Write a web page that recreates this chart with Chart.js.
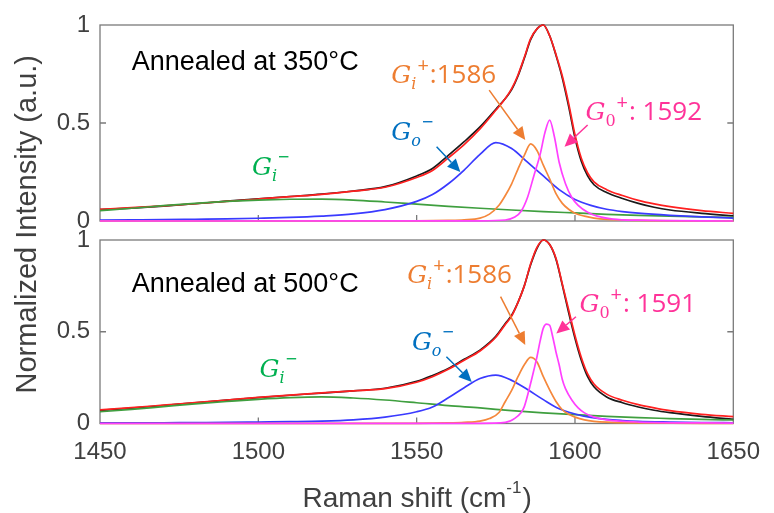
<!DOCTYPE html>
<html>
<head>
<meta charset="utf-8">
<script src="https://cdn.jsdelivr.net/npm/chart.js@4.4.0/dist/chart.umd.min.js"></script>
<style>
  html, body { margin: 0; padding: 0; background: #fff; }
</style>
</head>
<body>
<canvas id="raman" width="774" height="513"></canvas>
<script>
// axis ticks
const xTicks = [1450, 1500, 1550, 1600, 1650];
const yTicks = [0, 0.5, 1];

// Raman shift grid of the measured spectra and the total fit
const shiftMain = [1450, 1460, 1470, 1480, 1490, 1500, 1510, 1520, 1530, 1540,
  1550, 1555, 1560, 1565, 1570, 1575,
  1578, 1580, 1582, 1584, 1586, 1588, 1590, 1592, 1594, 1596, 1598, 1600, 1602, 1604, 1606,
  1610, 1615, 1620, 1625, 1630, 1640, 1650];

// 350 C : measured (black) and fit (red)
const data350 = [0.058, 0.066, 0.076, 0.088, 0.101, 0.113, 0.125, 0.137, 0.153, 0.175,
  0.23, 0.268, 0.335, 0.405, 0.48, 0.57,
  0.625, 0.67, 0.74, 0.83, 0.925, 0.98, 1.0, 0.945, 0.845, 0.73, 0.585, 0.425, 0.305, 0.23, 0.185,
  0.145, 0.115, 0.09, 0.07, 0.056, 0.039, 0.026];
const fit350 = [0.060, 0.068, 0.077, 0.088, 0.100, 0.112, 0.124, 0.136, 0.152, 0.172,
  0.222, 0.258, 0.322, 0.39, 0.47, 0.565,
  0.625, 0.675, 0.745, 0.835, 0.93, 0.98, 1.0, 0.945, 0.85, 0.74, 0.60, 0.44, 0.32, 0.245, 0.20,
  0.16, 0.13, 0.105, 0.087, 0.073, 0.053, 0.039];

// 500 C : measured (black) and fit (red)
const data500 = [0.072, 0.084, 0.098, 0.113, 0.127, 0.141, 0.154, 0.166, 0.178, 0.192,
  0.23, 0.262, 0.30, 0.35, 0.40, 0.475,
  0.545, 0.59, 0.66, 0.75, 0.865, 0.955, 1.0, 0.975, 0.895, 0.755, 0.605, 0.465, 0.345, 0.255, 0.20,
  0.145, 0.113, 0.09, 0.072, 0.059, 0.039, 0.023];
const fit500 = [0.074, 0.086, 0.10, 0.114, 0.128, 0.142, 0.155, 0.167, 0.178, 0.19,
  0.225, 0.255, 0.295, 0.345, 0.395, 0.47,
  0.54, 0.585, 0.66, 0.75, 0.87, 0.96, 1.0, 0.975, 0.90, 0.76, 0.62, 0.48, 0.36, 0.27, 0.215,
  0.16, 0.127, 0.103, 0.085, 0.07, 0.05, 0.037];

// Gi- component (green)
const shiftGiMinus = [1450, 1460, 1470, 1480, 1490, 1500, 1510, 1520, 1530, 1540, 1550,
  1560, 1570, 1580, 1590, 1600, 1610, 1620, 1630, 1640, 1650];
const giMinus350 = [0.053, 0.065, 0.078, 0.090, 0.100, 0.107, 0.111, 0.112, 0.107, 0.097, 0.086,
  0.075, 0.065, 0.056, 0.048, 0.041, 0.034, 0.029, 0.025, 0.021, 0.018];
const giMinus500 = [0.064, 0.077, 0.092, 0.107, 0.120, 0.132, 0.141, 0.145, 0.139, 0.128, 0.113,
  0.097, 0.085, 0.070, 0.058, 0.048, 0.039, 0.032, 0.027, 0.022, 0.019];

// Go- component (blue)
const shiftGoMinus = [1450, 1460, 1470, 1480, 1490, 1500, 1510, 1520, 1530, 1540, 1550, 1555,
  1560, 1565, 1570, 1575, 1580, 1585, 1590, 1595, 1600, 1605, 1610, 1615, 1620, 1630, 1640, 1650];
const goMinus350 = [0.005, 0.006, 0.007, 0.009, 0.011, 0.014, 0.018, 0.025, 0.036, 0.058, 0.10, 0.135,
  0.19, 0.26, 0.34, 0.40, 0.37, 0.30, 0.23, 0.16, 0.11, 0.08, 0.06, 0.048, 0.04, 0.029, 0.021, 0.015];
const goMinus500 = [0.003, 0.003, 0.004, 0.005, 0.006, 0.008, 0.010, 0.013, 0.02, 0.035, 0.064, 0.09,
  0.14, 0.195, 0.245, 0.264, 0.235, 0.185, 0.13, 0.08, 0.052, 0.033, 0.022, 0.016, 0.012, 0.008, 0.005, 0.004];

// Gi+ component (orange)
const shiftGiPlus = [1450, 1550, 1560, 1565, 1570, 1573, 1576, 1578, 1580, 1582, 1584, 1586,
  1588, 1590, 1592, 1594, 1596, 1598, 1600, 1603, 1606, 1610, 1620, 1650];
const giPlus350 = [0, 0.001, 0.003, 0.006, 0.015, 0.035, 0.08, 0.13, 0.19, 0.265, 0.335, 0.393,
  0.36, 0.285, 0.215, 0.14, 0.09, 0.06, 0.04, 0.025, 0.015, 0.008, 0.003, 0];
const giPlus500 = [0, 0.001, 0.003, 0.006, 0.013, 0.027, 0.06, 0.12, 0.18, 0.255, 0.32, 0.36,
  0.335, 0.255, 0.183, 0.12, 0.075, 0.05, 0.035, 0.02, 0.012, 0.007, 0.003, 0];

// G0+ component (magenta)
const shiftGPlus350 = [1450, 1570, 1578, 1581, 1583, 1585, 1587, 1589, 1590.5, 1592, 1593.5,
  1595, 1597, 1599, 1601, 1604, 1607, 1612, 1620, 1650];
const gPlus350 = [0, 0.001, 0.005, 0.02, 0.05, 0.12, 0.23, 0.34, 0.45, 0.515, 0.43,
  0.30, 0.19, 0.12, 0.08, 0.045, 0.025, 0.01, 0.004, 0];
const shiftGPlus500 = [1450, 1570, 1578, 1581, 1583, 1584, 1586, 1587, 1588, 1589, 1590, 1591, 1592,
  1593, 1594, 1595, 1596, 1597, 1599, 1601, 1603, 1606, 1610, 1620, 1650];
const gPlus500 = [0, 0.001, 0.006, 0.028, 0.06, 0.092, 0.219, 0.29, 0.364, 0.45, 0.52, 0.542, 0.535,
  0.47, 0.39, 0.32, 0.24, 0.19, 0.128, 0.085, 0.058, 0.035, 0.02, 0.008, 0.002];

// labels and arrows, in data units of each panel
const panelNotes = [
  { axis: 'yTop', title: 'Annealed at 350\u00b0C', titleAt: [1460, 0.77],
    giMinus: [1498, 0.235], goMinus: [1542, 0.413], goArrow: [1556.3, 0.379, 1563.8, 0.25],
    giPlus: [1542, 0.704], giArrow: [1572.9, 0.668, 1584.3, 0.413],
    gPlus: [1603.3, 0.515], gPlusText: ': 1592', gArrow: [1604, 0.49, 1596.7, 0.379] },
  { axis: 'yBot', title: 'Annealed at 500\u00b0C', titleAt: [1460, 0.718],
    giMinus: [1500.4, 0.255], goMinus: [1548.5, 0.40], goArrow: [1559.4, 0.364, 1567.4, 0.226],
    giPlus: [1547, 0.764], giArrow: [1576.5, 0.691, 1584.3, 0.428],
    gPlus: [1601.4, 0.609], gPlusText: ': 1591', gArrow: [1600.3, 0.582, 1594.1, 0.491] }
];

Chart.defaults.font.family = '"Liberation Sans", Arial, sans-serif';

function serie(xs, ys, color, axis, order) {
  return {
    data: xs.map((x, i) => ({ x: x, y: ys[i] })),
    borderColor: color,
    borderWidth: 1.7,
    yAxisID: axis,
    order: order,
    pointRadius: 0,
    tension: 0.4,
    cubicInterpolationMode: 'monotone',
    clip: 4,
    fill: false
  };
}

function panelAxis(weight, stackWeight, hidden) {
  return {
    type: 'linear',
    position: 'left',
    stack: 'panels',
    stackWeight: stackWeight,
    weight: weight,
    min: 0,
    max: 1,
    afterBuildTicks: s => { s.ticks = hidden ? [] : yTicks.map(v => ({ value: v })); },
    afterFit: s => { s.width = 100; },
    grid: { display: false, drawTicks: false },
    border: { display: false },
    ticks: { display: !hidden, padding: 10, color: '#404040', font: { size: 24 }, callback: v => String(v) }
  };
}

function drawArrow(ctx, x1, y1, x2, y2, color) {
  const a = Math.atan2(y2 - y1, x2 - x1);
  const head = 13, half = 6;
  const bx = x2 - head * Math.cos(a), by = y2 - head * Math.sin(a);
  ctx.strokeStyle = color;
  ctx.fillStyle = color;
  ctx.lineWidth = 1.5;
  ctx.beginPath();
  ctx.moveTo(x1, y1);
  ctx.lineTo(bx, by);
  ctx.stroke();
  ctx.beginPath();
  ctx.moveTo(x2, y2);
  ctx.lineTo(bx + half * Math.sin(a), by - half * Math.cos(a));
  ctx.lineTo(bx - half * Math.sin(a), by + half * Math.cos(a));
  ctx.closePath();
  ctx.fill();
}

// G with subscript, superscript and an optional tail text
function drawG(ctx, x, y, color, sub, subItalic, sup, tail) {
  ctx.fillStyle = color;
  ctx.textAlign = 'left';
  ctx.textBaseline = 'alphabetic';
  ctx.font = 'italic 25px "DejaVu Serif"';
  ctx.fillText('G', x, y);
  x += ctx.measureText('G').width;
  ctx.font = (subItalic ? 'italic ' : '') + '16px "DejaVu Serif"';
  ctx.fillText(sub, x, y + 6);
  x += ctx.measureText(sub).width + 1;
  ctx.font = '20px "Open Sans"';
  ctx.fillText(sup, x, y - 11);
  x += ctx.measureText(sup).width;
  if (tail) {
    ctx.font = '26px "Open Sans"';
    ctx.fillText(tail, x + 1, y);
  }
}

const panelBox = {
  id: 'panelBox',
  beforeDatasetsDraw(chart) {
    const { ctx, scales } = chart;
    const sx = scales.x;
    ctx.save();
    ctx.strokeStyle = '#7a7a7a';
    ctx.lineWidth = 1.3;
    for (const id of ['yTop', 'yBot']) {
      const sy = scales[id];
      ctx.strokeRect(sx.left, sy.top, sx.right - sx.left, sy.bottom - sy.top);
      ctx.beginPath();
      const py = sy.getPixelForValue(0.5);
      ctx.moveTo(sx.left, py); ctx.lineTo(sx.left + 6, py);
      ctx.moveTo(sx.right, py); ctx.lineTo(sx.right - 6, py);
      for (const t of xTicks.slice(1, -1)) {
        const px = sx.getPixelForValue(t);
        ctx.moveTo(px, sy.bottom); ctx.lineTo(px, sy.bottom - 6);
      }
      ctx.stroke();
    }
    ctx.restore();
  },
  afterDatasetsDraw(chart) {
    const { ctx, scales } = chart;
    const sx = scales.x;
    ctx.save();
    for (const n of panelNotes) {
      const sy = scales[n.axis];
      const px = v => sx.getPixelForValue(v);
      const py = v => sy.getPixelForValue(v);

      ctx.fillStyle = '#000';
      ctx.font = '27px "Liberation Sans"';
      ctx.textAlign = 'left';
      ctx.textBaseline = 'alphabetic';
      ctx.fillText(n.title, px(n.titleAt[0]), py(n.titleAt[1]));

      drawG(ctx, px(n.giMinus[0]), py(n.giMinus[1]), '#00b050', 'i', true, '\u2212');
      drawG(ctx, px(n.goMinus[0]), py(n.goMinus[1]), '#0070c0', 'o', true, '\u2212');
      drawG(ctx, px(n.giPlus[0]), py(n.giPlus[1]), '#ed7d31', 'i', true, '+', ':1586');
      drawG(ctx, px(n.gPlus[0]), py(n.gPlus[1]), '#ff3399', '0', false, '+', n.gPlusText);

      const b = n.goArrow, o = n.giArrow, g = n.gArrow;
      drawArrow(ctx, px(b[0]), py(b[1]), px(b[2]), py(b[3]), '#0070c0');
      drawArrow(ctx, px(o[0]), py(o[1]), px(o[2]), py(o[3]), '#ed7d31');
      drawArrow(ctx, px(g[0]), py(g[1]), px(g[2]), py(g[3]), '#ff3399');
    }

    // axis titles
    const top = scales.yTop.top, bottom = scales.yBot.bottom;
    ctx.fillStyle = '#404040';
    ctx.font = '29px "Liberation Sans"';
    ctx.textAlign = 'center';
    ctx.textBaseline = 'middle';
    ctx.save();
    ctx.translate(28, (top + bottom) / 2);
    ctx.rotate(-Math.PI / 2);
    ctx.fillText('Normalized Intensity (a.u.)', 0, 0);
    ctx.restore();

    const main = 'Raman shift (cm', sup = '-1', end = ')';
    ctx.textAlign = 'left';
    ctx.textBaseline = 'alphabetic';
    ctx.font = '28px "Liberation Sans"';
    const w1 = ctx.measureText(main).width, w3 = ctx.measureText(end).width;
    ctx.font = '17px "Liberation Sans"';
    const w2 = ctx.measureText(sup).width;
    let x0 = (sx.left + sx.right) / 2 - (w1 + w2 + w3) / 2;
    ctx.font = '28px "Liberation Sans"';
    ctx.fillText(main, x0, 507);
    ctx.font = '17px "Liberation Sans"';
    ctx.fillText(sup, x0 + w1, 493);
    ctx.font = '28px "Liberation Sans"';
    ctx.fillText(end, x0 + w1 + w2 + 1, 507);
    ctx.restore();
  }
};

const grafico = new Chart(document.getElementById('raman'), {
  type: 'line',
  data: {
    datasets: [
      serie(shiftMain, data350, '#1a1a1a', 'yTop', 6),
      serie(shiftMain, fit350, '#ff2020', 'yTop', 5),
      serie(shiftGiMinus, giMinus350, '#3f9f3f', 'yTop', 4),
      serie(shiftGoMinus, goMinus350, '#3a3aff', 'yTop', 3),
      serie(shiftGiPlus, giPlus350, '#f5883c', 'yTop', 2),
      serie(shiftGPlus350, gPlus350, '#ff40ff', 'yTop', 1),
      serie(shiftMain, data500, '#1a1a1a', 'yBot', 6),
      serie(shiftMain, fit500, '#ff2020', 'yBot', 5),
      serie(shiftGiMinus, giMinus500, '#3f9f3f', 'yBot', 4),
      serie(shiftGoMinus, goMinus500, '#3a3aff', 'yBot', 3),
      serie(shiftGiPlus, giPlus500, '#f5883c', 'yBot', 2),
      serie(shiftGPlus500, gPlus500, '#ff40ff', 'yBot', 1)
    ]
  },
  options: {
    responsive: false,
    animation: false,
    layout: { padding: { left: 0, right: 31, top: 25, bottom: 0 } },
    plugins: { legend: { display: false }, tooltip: { enabled: false } },
    scales: {
      x: {
        type: 'linear',
        position: 'bottom',
        min: 1450,
        max: 1650,
        afterBuildTicks: s => { s.ticks = xTicks.map(v => ({ value: v })); },
        afterFit: s => { s.height = 89.5; },
        grid: { display: false, drawTicks: false },
        border: { display: false },
        ticks: { padding: 14, color: '#404040', font: { size: 24 }, maxRotation: 0, autoSkip: false, callback: v => String(v) }
      },
      yTop: panelAxis(3, 196, false),
      yGap: panelAxis(2, 19, true),
      yBot: panelAxis(1, 183.5, false)
    }
  },
  plugins: [panelBox]
});
</script>
</body>
</html>
